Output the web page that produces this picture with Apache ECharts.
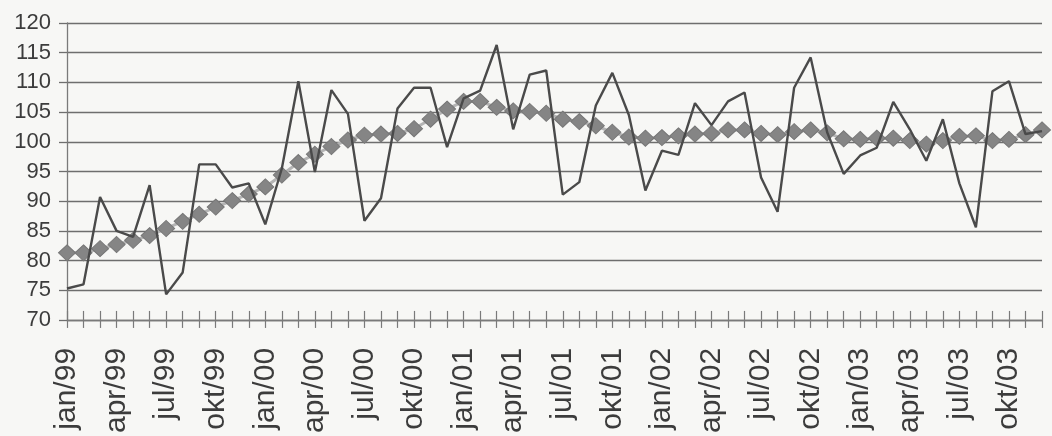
<!DOCTYPE html>
<html>
<head>
<meta charset="utf-8">
<script src="https://cdn.jsdelivr.net/npm/echarts@6/dist/echarts.min.js"></script>
<style>
html,body{margin:0;padding:0;background:#f7f7f5;}
#c{width:1052px;height:436px;}
</style>
</head>
<body>
<div id="c"></div>
<script>
const monthNames = ['jan','feb','mar','apr','mai','jun','jul','aug','sep','okt','nov','des'];
const years = ['99','00','01','02','03'];
const categories = [];
years.forEach(y => monthNames.forEach(m => categories.push(m + '/' + y)));

const actual = [
  75.3, 76.0, 90.7, 85.0, 84.0, 92.7, 74.3, 78.0, 96.2, 96.2, 92.3, 93.0,
  86.1, 95.5, 110.2, 94.9, 108.7, 104.7, 86.7, 90.5, 105.6, 109.1, 109.1, 99.1,
  107.3, 108.6, 116.3, 102.1, 111.3, 112.0, 91.1, 93.2, 106.1, 111.6, 104.5, 91.8,
  98.5, 97.8, 106.5, 102.8, 106.8, 108.3, 94.0, 88.2, 109.1, 114.2, 101.6, 94.6,
  97.7, 99.0, 106.7, 102.1, 96.8, 103.8, 93.0, 85.6, 108.5, 110.2, 101.3, 101.8
];

const trend = [
  81.3, 81.3, 82.0, 82.7, 83.4, 84.2, 85.4, 86.6, 87.8, 89.0, 90.1, 91.2,
  92.4, 94.4, 96.5, 97.9, 99.2, 100.3, 101.1, 101.3, 101.4, 102.2, 103.8, 105.5,
  106.8, 106.8, 105.8, 105.2, 105.1, 104.8, 103.8, 103.4, 102.7, 101.6, 100.8, 100.6,
  100.7, 101.0, 101.3, 101.4, 102.0, 102.0, 101.4, 101.2, 101.7, 102.0, 101.5, 100.5,
  100.4, 100.6, 100.6, 100.2, 99.6, 100.2, 100.9, 101.0, 100.2, 100.4, 101.2, 102.0
];

const yMin = 70, yMax = 120, yStep = 5;

const chart = echarts.init(document.getElementById('c'), null, {renderer:'canvas'});
const txt = '#3c3c3c';
chart.setOption({
  backgroundColor: '#f7f7f5',
  animation: false,
  grid: {left: 67, right: 10, top: 23, bottom: 113},
  xAxis: [
    {
      type: 'category', data: categories, boundaryGap: false, position: 'bottom',
      axisLine: {show: true, lineStyle: {color: '#7a7a7a', width: 1.3}},
      axisTick: {show: true, inside: false, length: 8, interval: 0, lineStyle: {color: '#7a7a7a', width: 1.2}},
      axisLabel: {
        interval: 2, rotate: 90, margin: 28, color: txt,
        fontFamily: 'Liberation Sans, Arial, sans-serif', fontSize: 30
      },
      splitLine: {show: false}
    },
    {
      type: 'category', data: categories, boundaryGap: false, position: 'bottom',
      axisLine: {show: false},
      axisTick: {show: true, inside: true, length: 9, interval: 0, lineStyle: {color: '#7a7a7a', width: 1.2}},
      axisLabel: {show: false},
      splitLine: {show: false}
    }
  ],
  yAxis: {
    type: 'value', min: yMin, max: yMax, interval: yStep,
    axisLine: {show: true, lineStyle: {color: '#7a7a7a', width: 1.3}},
    axisTick: {show: true, length: 8, lineStyle: {color: '#6e6e6e', width: 1.3}},
    axisLabel: {margin: 16, color: txt, fontFamily: 'Liberation Sans, Arial, sans-serif', fontSize: 22},
    splitLine: {show: true, lineStyle: {color: '#6e6e6e', width: 1.3}}
  },
  series: [
    {
      type: 'line', data: trend, xAxisIndex: 0,
      symbol: 'diamond', symbolSize: [17, 16], showSymbol: true, showAllSymbol: true,
      lineStyle: {color: '#b4b4b4', width: 3},
      itemStyle: {color: '#858585', borderColor: '#777777', borderWidth: 1},
      z: 2
    },
    {
      type: 'line', data: actual, xAxisIndex: 0,
      symbol: 'none',
      lineStyle: {color: '#4a4a4a', width: 2.4},
      z: 3
    }
  ]
});
</script>
</body>
</html>
